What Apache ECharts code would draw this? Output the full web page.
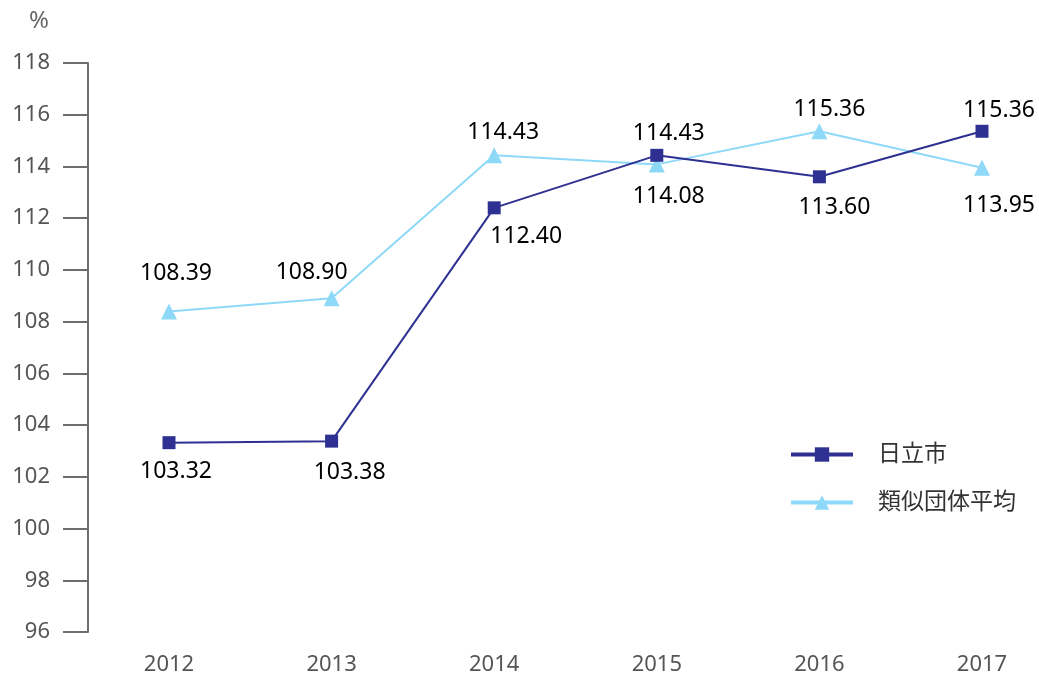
<!DOCTYPE html>
<html>
<head>
<meta charset="utf-8">
<script src="https://cdn.jsdelivr.net/npm/echarts@6/dist/echarts.min.js"></script>
<style>
	html, body { margin: 0; padding: 0; background: #fff; }
	#chart { width: 1039px; height: 684px; }
</style>
</head>
<body>
<div id="chart"></div>
<script>
var years = ['2012', '2013', '2014', '2015', '2016', '2017'];
var hitachi = [103.32, 103.38, 112.40, 114.43, 113.60, 115.36];
var similar = [108.39, 108.90, 114.43, 114.08, 115.36, 113.95];
var seriesNames = ['日立市', '類似団体平均'];

// label placement per point: side, distance, x shift
var hitachiLabelSide = ['bottom', 'bottom', 'bottom', 'top', 'bottom', 'top'];
var hitachiLabelDist = [11, 13, 11, 4, 13, 3];
var hitachiLabelDx = [7, 18, 32, 12, 15, 17];
var similarLabelSide = ['top', 'top', 'top', 'bottom', 'top', 'bottom'];
var similarLabelDist = [19, 6, 3, 13, 2, 18];
var similarLabelDx = [7, -20, 9, 12, 10, 17];

var fontFamily = '"Noto Sans", "Noto Sans CJK JP", sans-serif';

function buildData(values, side, dist, dx) {
	return values.map(function (v, i) {
		return {
			value: v,
			label: {
				position: side[i],
				distance: dist[i],
				offset: [dx[i], 0]
			}
		};
	});
}

var myChart = echarts.init(document.getElementById('chart'), null, { renderer: 'canvas' });

var option = {
	animation: false,
	backgroundColor: '#ffffff',
	title: {
		text: '%',
		left: 24,
		top: 4,
		textStyle: {
			fontFamily: fontFamily,
			fontSize: 24,
			fontWeight: 'normal',
			color: '#666666'
		}
	},
	grid: {
		left: 169,
		right: 57,
		top: 63,
		bottom: 52
	},
	legend: {
		orient: 'vertical',
		left: 784,
		top: 438,
		itemWidth: 62,
		itemHeight: 18,
		itemGap: 25,
		data: seriesNames,
		lineStyle: { width: 4 },
		textStyle: {
			fontFamily: fontFamily,
			fontSize: 23,
			color: '#333333',
			padding: [0, 0, 0, 20]
		}
	},
	xAxis: {
		type: 'category',
		data: years,
		boundaryGap: false,
		axisLine: { show: false },
		axisTick: { show: false },
		axisLabel: {
			margin: 22,
			fontFamily: fontFamily,
			fontSize: 22,
			color: '#555555'
		}
	},
	yAxis: {
		type: 'value',
		min: 96,
		max: 118,
		interval: 2,
		offset: 81,
		splitLine: { show: false },
		axisLine: {
			show: true,
			lineStyle: { color: '#6d6e71', width: 2 }
		},
		axisTick: {
			show: true,
			length: 25,
			lineStyle: { color: '#6d6e71', width: 2 }
		},
		axisLabel: {
			margin: 38,
			fontFamily: fontFamily,
			fontSize: 22,
			color: '#555555'
		}
	},
	series: [{
		name: seriesNames[0],
		type: 'line',
		data: buildData(hitachi, hitachiLabelSide, hitachiLabelDist, hitachiLabelDx),
		symbol: 'rect',
		symbolSize: 13,
		z: 3,
		color: '#2e3192',
		lineStyle: { color: '#2e3192', width: 2 },
		itemStyle: { color: '#2e3192' },
		label: {
			show: true,
			fontFamily: fontFamily,
			fontSize: 23,
			color: '#000000',
			formatter: function (p) { return p.value.toFixed(2); }
		}
	}, {
		name: seriesNames[1],
		type: 'line',
		data: buildData(similar, similarLabelSide, similarLabelDist, similarLabelDx),
		symbol: 'triangle',
		symbolSize: 16,
		z: 2,
		color: '#8ed8f8',
		lineStyle: { color: '#8ed8f8', width: 2 },
		itemStyle: { color: '#8ed8f8' },
		label: {
			show: true,
			fontFamily: fontFamily,
			fontSize: 23,
			color: '#000000',
			formatter: function (p) { return p.value.toFixed(2); }
		}
	}]
};

myChart.setOption(option);
</script>
</body>
</html>
